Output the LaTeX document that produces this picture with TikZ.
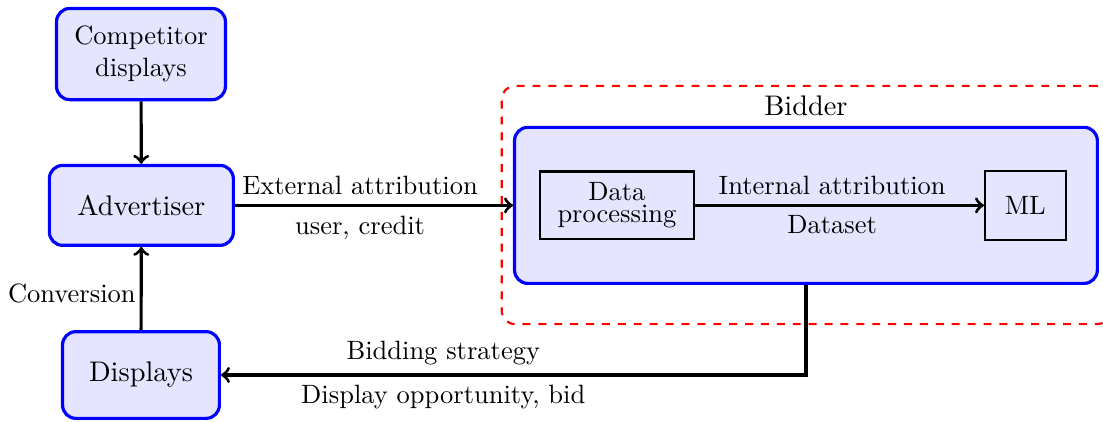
\documentclass[tikz,border=0pt]{standalone}

\begin{document}
\begin{tikzpicture}[
  block/.style={draw=blue, very thick, fill=blue!10, rounded corners=5pt, align=center},
  bigtext/.style={font=\fontsize{10.7}{13}\selectfont},
  inner/.style={draw, thick, align=center},
  zone/.style={draw=red, dashed, thick, rounded corners=5pt},
  link/.style={->, very thick}
]
  \useasboundingbox (0,0) rectangle (14.63,5.584);

  \node[zone, minimum width=8.07cm, minimum height=3.16cm] (bidderzone) at (10.69,2.865) {};
  \node[bigtext] (biddertitle) at (10.69,4.18) {Bidder};

  \node[block, minimum width=2.24cm, minimum height=1.21cm] (competitor) at (1.87,4.867) {Competitor\\displays};
  \node[block, bigtext, minimum width=2.44cm, minimum height=1.06cm] (advertiser) at (1.875,2.86) {Advertiser};
  \node[block, bigtext, minimum width=2.08cm, minimum height=1.15cm] (displays) at (1.87,0.61) {Displays};
  \node[block, minimum width=7.73cm, minimum height=2.07cm] (bidder) at (10.69,2.86) {};

  \node[inner, fill=blue!10, minimum width=2.04cm, minimum height=0.90cm] (dataproc) at (8.183,2.86) {Data\\[-3.5pt]processing};
  \node[inner, fill=blue!10, minimum width=1.07cm, minimum height=0.92cm] (ml) at (13.60,2.86) {ML};

  \draw[link] (competitor) -- (advertiser);
  \draw[link] (displays) -- node[pos=0.44, left, inner sep=1.5pt] {Conversion} (advertiser);
  \draw[link] (advertiser) -- node[pos=0.45, above] {External attribution} node[pos=0.45, below] {user, credit} (bidder);
  \draw[link] (dataproc) -- node[pos=0.475, above] {Internal attribution} node[pos=0.475, below] {Dataset} (ml);
  \draw[link] (bidder.south) |- node[pos=0.81, above] {Bidding strategy} node[pos=0.81, below] {Display opportunity, bid} (displays.east);

\end{tikzpicture}
\end{document}
